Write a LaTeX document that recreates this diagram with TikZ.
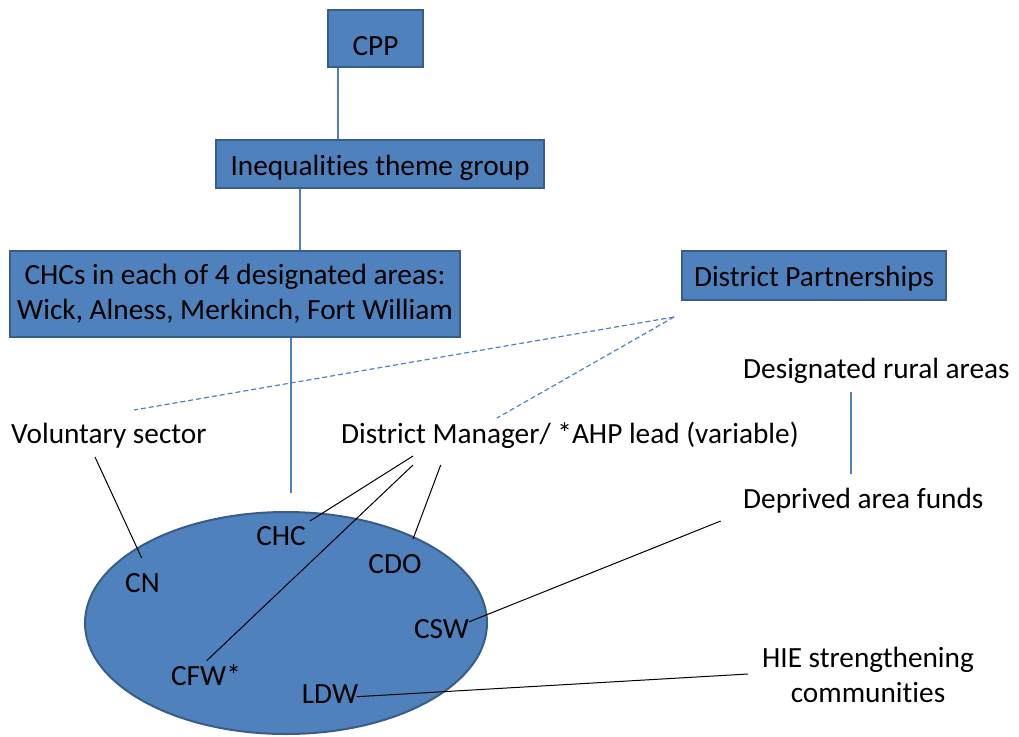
\documentclass[tikz,border=0pt]{standalone}
\usepackage{fontspec}
\setmainfont{Carlito}[Ligatures={CommonOff,ContextualOff}]
\usetikzlibrary{shapes.geometric}
\definecolor{boxfill}{HTML}{4F81BD}
\definecolor{boxline}{HTML}{385D8A}
\begin{document}
\begin{tikzpicture}[x=1pt,y=-1pt,
  every node/.style={font=\fontsize{29.3}{35.2}\selectfont, inner sep=0pt, text=black},
  orgbox/.style={draw=boxline, fill=boxfill, line width=2.2pt},
  bluelink/.style={draw=boxfill, line width=1.2pt},
  dashlink/.style={draw=boxfill, line width=1.2pt, dash pattern=on 5pt off 3pt},
  blacklink/.style={draw=black, line width=1pt},
  lbl/.style={anchor=base west},
  inlbl/.style={anchor=base},
]
\useasboundingbox (0,0) rectangle (1019,736);

% organisation boxes
\node[orgbox, minimum width=95pt, minimum height=57pt, text height=33pt, text depth=0pt] (cpp) at (375.5,38.5) {CPP};
\node[orgbox, minimum width=328pt, minimum height=48pt, text height=22pt, text depth=0pt] (ineq) at (380,164) {Inequalities theme group};
\node[orgbox, minimum width=450pt, minimum height=86pt, align=center] (chcs) at (235,294) {CHCs in each of 4 designated areas:\\Wick, Alness, Merkinch, Fort William};
\node[orgbox, minimum width=264pt, minimum height=49pt, text height=21pt, text depth=0pt] (dp) at (814,275.5) {District Partnerships};

% free-standing labels
\node[lbl] (vol) at (11,443) {Voluntary sector};
\node[lbl] (dm) at (341,443) {District Manager/ *AHP lead (variable)};
\node[lbl] (rural) at (743,378) {Designated rural areas};
\node[lbl] (funds) at (743,508) {Deprived area funds};
\node[align=center] (hie) at (868,675) {HIE strengthening\\communities};

% local group
\node[draw=boxline, fill=boxfill, line width=2pt, ellipse, minimum width=402pt, minimum height=222pt] (area) at (286,623) {};
\node[inlbl] (chc) at (281,545) {CHC};
\node[inlbl] (cn) at (142.5,592) {CN};
\node[inlbl] (cdo) at (395,573) {CDO};
\node[inlbl] (csw) at (441.5,638) {CSW};
\node[inlbl] (cfw) at (206,685) {CFW*};
\node[inlbl] (ldw) at (330,703) {LDW};

% connector end points
\coordinate (chcsEnd) at (291,493);
\coordinate (dpTip) at (674,317);
\coordinate (volTop) at (134,410);
\coordinate (dmTop) at (497,418);
\coordinate (ruralFoot) at (851,392);
\coordinate (fundsTop) at (851,474);
\coordinate (volFoot) at (95,457);
\coordinate (cnTip) at (141.7,558);
\coordinate (dmFootA) at (413,456);
\coordinate (dmFootB) at (413,465);
\coordinate (dmFootC) at (440.7,465);
\coordinate (chcTip) at (310,521);
\coordinate (cfwTip) at (206.7,660.7);
\coordinate (cdoTip) at (413,539);
\coordinate (fundsFoot) at (720.7,521);
\coordinate (cswTip) at (469.3,621.7);
\coordinate (hieTip) at (748,674);
\coordinate (ldwTip) at (356.7,696.7);

% hierarchy
\draw[bluelink] ([xshift=-37.5pt]cpp.south) -- ([xshift=-42pt]ineq.north);
\draw[bluelink] ([xshift=-80pt]ineq.south) -- ([xshift=65pt]chcs.north);
\draw[bluelink] ([xshift=56pt]chcs.south) -- (chcsEnd);
\draw[bluelink] (ruralFoot) -- (fundsTop);

% partnership links
\draw[dashlink] (dpTip) -- (volTop);
\draw[dashlink] (dpTip) -- (dmTop);

% links into the group
\draw[blacklink] (volFoot) -- (cnTip);
\draw[blacklink] (dmFootA) -- (chcTip);
\draw[blacklink] (dmFootB) -- (cfwTip);
\draw[blacklink] (dmFootC) -- (cdoTip);
\draw[blacklink] (fundsFoot) -- (cswTip);
\draw[blacklink] (hieTip) -- (ldwTip);
\end{tikzpicture}
\end{document}
